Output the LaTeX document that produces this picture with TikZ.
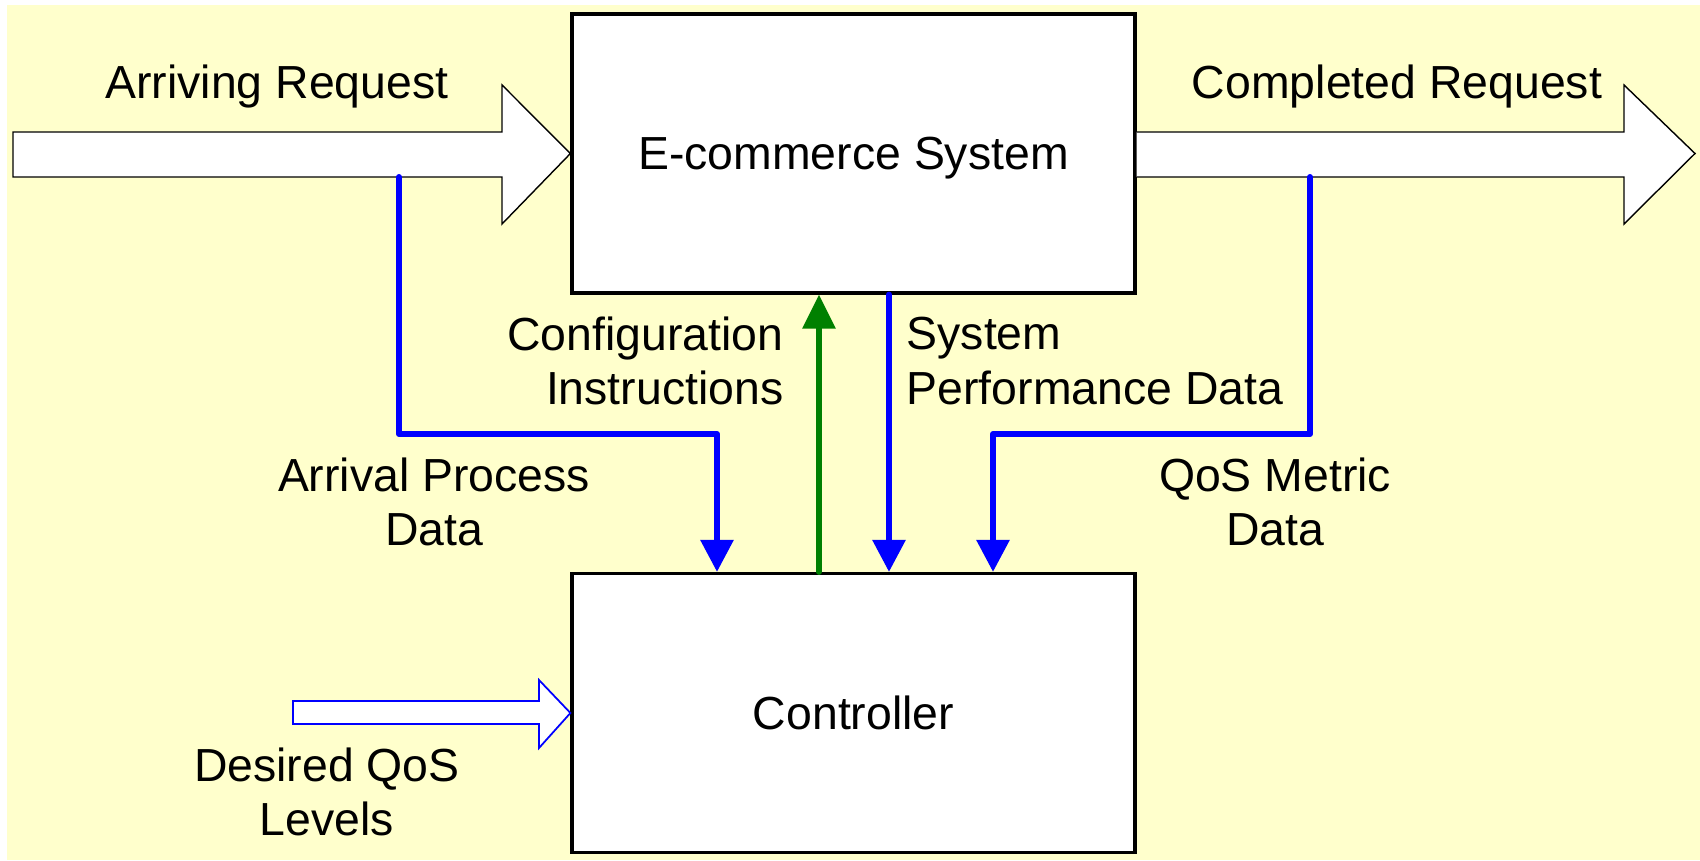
\documentclass[tikz,border=0pt]{standalone}
\usepackage{fontspec}
\setmainfont{Liberation Sans}
\usetikzlibrary{arrows.meta,calc}

\definecolor{fond}{HTML}{FFFFCC}
\definecolor{vert}{HTML}{008000}

\tikzset{
  bloc/.style={draw, line width=0.9pt, fill=white, minimum width=5.63cm, minimum height=2.79cm, inner sep=0pt, text depth=0pt},
  texte/.style={inner sep=0pt, align=center},
  flux/.style={draw=blue, line width=1.7pt, line join=round, line cap=round, -{Triangle[width=0.32cm,length=0.32cm]}},
  commande/.style={draw=vert, line width=1.7pt, line cap=round, -{Triangle[width=0.32cm,length=0.34cm]}},
}

\begin{document}
\begin{tikzpicture}[font=\fontsize{13.2}{15.4}\selectfont]
        % Fond jaune
        \useasboundingbox (0,0) rectangle (17,8.6);
        \fill[fond] (0.07,0) rectangle (17,8.55);

        % Les deux blocs
        \node[bloc] (sys) at (8.535,7.065) {E-commerce System};
        \node[bloc] (ctrl) at (8.535,1.47) {Controller};

        % Grosses fleches des requetes
        \draw[line width=0.4pt, fill=white] (0.13,7.28) -- (5.02,7.28) -- (5.02,7.75) -- (sys.west)
            -- (5.02,6.36) -- (5.02,6.83) -- (0.13,6.83) -- cycle;
        \draw[line width=0.4pt, fill=white] (sys.east |- 0,7.28) -- (16.24,7.28) -- (16.24,7.75) -- (16.95,7.065)
            -- (16.24,6.36) -- (16.24,6.83) -- (sys.east |- 0,6.83);
        \node[texte] (arr) at (2.77,7.73) {Arriving Request};
        \node[texte] (comp) at (13.97,7.73) {Completed Request};

        % Petite fleche bleue (consigne)
        \draw[blue, line width=0.5pt, fill=white] (2.93,1.59) -- (5.39,1.59) -- (5.39,1.80) -- (ctrl.west)
            -- (5.39,1.12) -- (5.39,1.36) -- (2.93,1.36) -- cycle;
        \node[texte] (qos) at (3.27,0.685) {Desired QoS\\Levels};

        % Mesures vers le controleur
        \coordinate (a) at (3.99,6.83);
        \coordinate (b) at (13.10,6.83);
        \draw[flux] (a) |- (7.17,4.26) -- (ctrl.north -| 7.17,0);
        \draw[flux] (b) |- (9.93,4.26) -- (ctrl.north -| 9.93,0);
        \draw[flux] (sys.south -| 8.89,0) -- (ctrl.north -| 8.89,0);
        \draw[commande] (ctrl.north -| 8.19,0) -- (sys.south -| 8.19,0);

        \node[texte, anchor=east, align=right] (conf) at (7.84,4.99) {Configuration\\Instructions};
        \node[texte, anchor=west, align=left] (perf) at (9.06,4.99) {System\\Performance Data};
        \node[texte] (proc) at (4.34,3.585) {Arrival Process\\Data};
        \node[texte] (metr) at (12.75,3.585) {QoS Metric\\Data};

    \end{tikzpicture}
\end{document}
